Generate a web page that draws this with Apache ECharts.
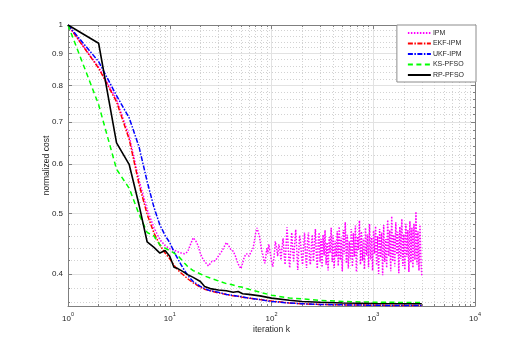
<!DOCTYPE html>
<html>
<head>
<meta charset="utf-8">
<title>normalized cost</title>
<script src="https://cdn.jsdelivr.net/npm/echarts@6/dist/echarts.min.js"></script>
<style>
  *{margin:0;padding:0;}
  body{background:#fff;}
  #main{width:526px;height:346px;}
</style>
</head>
<body>
<div id="main"></div>
<script>
// iterations at which the smooth curves were read
var kGrid = [1,2,3,4,5,6,7,8,9,10,11,12,13,14,15,17,20,22,25,30,36,42,47,52,60,77,100,150,200,300,500,1000,2000,3000];

var ekfIpm = [1,0.853,0.754,0.656,0.556,0.498,0.465,0.445,0.432,0.423,0.413,0.406,0.401,0.397,0.393,0.387,0.381,0.378,0.376,0.373,0.371,0.369,0.3685,0.367,0.366,0.364,0.362,0.3595,0.3585,0.3575,0.357,0.3565,0.356,0.356];
var ukfIpm = [1,0.874,0.771,0.71,0.638,0.562,0.511,0.479,0.461,0.449,0.434,0.423,0.413,0.405,0.398,0.389,0.382,0.379,0.376,0.374,0.371,0.3695,0.3685,0.3675,0.366,0.364,0.3615,0.3595,0.3585,0.3575,0.357,0.3565,0.356,0.356];
var ksPfso  = [1,0.746,0.588,0.548,0.498,0.466,0.46,0.445,0.44,0.436,0.432,0.428,0.422,0.416,0.411,0.405,0.4,0.397,0.394,0.39,0.386,0.384,0.382,0.381,0.378,0.374,0.37,0.366,0.365,0.363,0.3615,0.3605,0.3602,0.36];
var rpPfso  = [1,0.935,0.648,0.598,0.515,0.45,0.441,0.432,0.436,0.427,0.41,0.408,0.405,0.402,0.399,0.395,0.389,0.382,0.379,0.377,0.376,0.374,0.375,0.372,0.371,0.369,0.366,0.363,0.3615,0.3605,0.3595,0.3588,0.3585,0.3585];

// IPM is noisy, read at its own iterations
var ipmK = [1,2,3,4,5,6,7,8,9,10,11,12,13,14,15,16,17,18,19,20,21,22,23,24,25,26,28,30,32,34,36,38,40,42,44,46,48,50,52,54,57,60,63,66,68,70,72,74,76,78,80,82,84,86,88,90,92,94,97,100,103,106,109,112,115,118,121,124,127,130,133,136,139,142,145,148,151,155,158,162,165,169,173,177,181,185,189,193,198,202,207,211,216,221,226,231,236,241,247,252,258,264,270,276,282,288,294,
  300,307,314,321,329,336,344,352,360,369,377,386,395,404,413,423,433,443,453,463,474,485,496,508,519,531,544,556,569,582,596,609,624,638,653,668,683,699,715,732,749,766,784,802,820,839,859,878,899,919,941,962,985,1007,1031,1054,1079,1104,1129,1155,1182,1209,1237,1266,1295,1325,1355,1387,1419,1451,1485,1519,1554,1590,1627,1665,1703,1742,1783,1824,1866,1909,1953,1998,2044,2092,2140,2189,2240,2292,2344,2399,2454,2511,2569,2628,2689,2751,2814,2879,2946,3000];
var ipmV = [1,0.856,0.76,0.664,0.564,0.507,0.474,0.454,0.444,0.439,0.437,0.434,0.432,0.431,0.434,0.446,0.457,0.452,0.444,0.431,0.424,0.419,0.416,0.412,0.415,0.419,0.42,0.427,0.433,0.441,0.449,0.444,0.437,0.435,0.428,0.419,0.412,0.408,0.416,0.426,0.431,0.427,0.434,0.44,0.452,0.466,0.474,0.477,0.46,0.448,0.436,0.43,0.421,0.416,0.427,0.44,0.431,0.446,0.433,0.419,0.411,0.426,0.451,0.441,0.427,0.446,0.437,0.421,0.441,0.456,0.431,0.414,0.442,0.475,0.451,0.424,0.409,0.441,0.466,0.436,0.419,0.447,0.471,0.439,0.406,0.432,0.461,0.449,0.424,0.414,0.442,0.466,0.431,0.409,0.452,0.466,0.424,0.414,0.446,0.462,0.419,0.441,0.472,0.429,0.408,0.451,0.466,
  0.418,0.455,0.41,0.462,0.428,0.47,0.414,0.449,0.405,0.458,0.432,0.474,0.418,0.461,0.409,0.452,0.426,0.468,0.412,0.476,0.421,0.457,0.404,0.47,0.43,0.484,0.416,0.462,0.408,0.451,0.423,0.472,0.411,0.465,0.426,0.478,0.403,0.459,0.437,0.487,0.414,0.468,0.42,0.455,0.407,0.474,0.428,0.463,0.41,0.481,0.422,0.457,0.405,0.469,0.431,0.477,0.413,0.46,0.4,0.472,0.425,0.466,0.398,0.479,0.418,0.455,0.409,0.488,0.427,0.47,0.404,0.495,0.419,0.462,0.411,0.484,0.43,0.467,0.401,0.476,0.423,0.49,0.412,0.463,0.406,0.481,0.426,0.47,0.403,0.486,0.417,0.474,0.409,0.481,0.421,0.503,0.414,0.468,0.405,0.479,0.42,0.397];

var xMajor = [1,10,100,1000,10000];
var xMinor = [2,3,4,5,6,7,8,9,20,30,40,50,60,70,80,90,200,300,400,500,600,700,800,900,2000,3000,4000,5000,6000,7000,8000,9000];
var yMajor = [0.4,0.5,0.6,0.7,0.8,0.9,1];
var yMinor = [0.36,0.38,0.42,0.44,0.46,0.48,0.52,0.54,0.56,0.58,0.62,0.64,0.66,0.68,0.72,0.74,0.76,0.78,0.82,0.84,0.86,0.88,0.92,0.94,0.96,0.98];
var yMin = 0.3555, yMax = 1;

function pairs(ks, vs) {
  return ks.map(function (k, i) { return [k, vs[i]]; });
}

var axisGray = '#7f7f7f';
var txt = '#262626';
var font = '"Liberation Sans", Arial, sans-serif';

function xAx(pos, ticks, len, line, label, split) {
  return {
    type: 'log', logBase: 10, min: 1, max: 10000, position: pos,
    axisLine: { show: line, onZero: false, lineStyle: { color: axisGray, width: 1 } },
    axisTick: { show: true, inside: true, length: len, customValues: ticks, lineStyle: { color: axisGray } },
    axisLabel: { show: label, customValues: ticks, margin: 5, color: txt, fontFamily: font,
      formatter: function (v) { return '{b|10}{s|' + Math.round(Math.log10(v)) + '}'; },
      rich: { b: { fontSize: 8, fontFamily: font, color: txt, verticalAlign: 'bottom', lineHeight: 12 },
              s: { fontSize: 5.5, fontFamily: font, color: txt, verticalAlign: 'top', lineHeight: 12, padding: [0, 0, 4, 0] } } },
    splitLine: split
  };
}
function yAx(pos, ticks, len, line, label, split) {
  return {
    type: 'log', logBase: 10, min: yMin, max: yMax, position: pos,
    axisLine: { show: line, onZero: false, lineStyle: { color: axisGray, width: 1 } },
    axisTick: { show: true, inside: true, length: len, customValues: ticks, lineStyle: { color: axisGray } },
    axisLabel: { show: label, customValues: ticks, margin: 5, color: txt, fontSize: 8, fontFamily: font,
      formatter: function (v) { return String(+v.toFixed(2)); } },
    splitLine: split
  };
}

var majorSplit = { show: true, lineStyle: { color: '#e2e2e2', width: 1, type: 'solid' } };
var minorSplit = { show: true, lineStyle: { color: '#d2d2d2', width: 1, type: [1, 2] } };
var noSplit = { show: false };

var xs = [
  xAx('bottom', xMajor, 4, true, true, majorSplit),
  xAx('bottom', xMinor, 2, false, false, minorSplit),
  xAx('top', xMajor, 4, true, false, noSplit),
  xAx('top', xMinor, 2, false, false, noSplit)
];
xs[0].name = 'iteration k';
xs[0].nameLocation = 'middle';
xs[0].nameGap = 19;
xs[0].nameMoveOverlap = false;
xs[0].nameTextStyle = { fontSize: 8.5, color: txt, fontFamily: font };

var ys = [
  yAx('left', yMajor, 4, true, true, majorSplit),
  yAx('left', yMinor, 2, false, false, minorSplit),
  yAx('right', yMajor, 4, true, false, noSplit),
  yAx('right', yMinor, 2, false, false, noSplit)
];
ys[0].name = 'normalized cost';
ys[0].nameLocation = 'middle';
ys[0].nameGap = 17;
ys[0].nameMoveOverlap = false;
ys[0].nameTextStyle = { fontSize: 8.5, color: txt, fontFamily: font };

function line(name, data, color, type, width) {
  return {
    name: name, type: 'line', data: data, xAxisIndex: 0, yAxisIndex: 0,
    symbol: 'none', silent: true, animation: false,
    lineStyle: { color: color, width: width, type: type },
    itemStyle: { color: color }
  };
}

var myChart = echarts.init(document.getElementById('main'));
var option = {
  animation: false,
  backgroundColor: '#fff',
  grid: { left: 68, top: 25, width: 407, height: 281, outerBoundsMode: 'none' },
  legend: {
    orient: 'vertical', right: 50, top: 25,
    padding: [4.5, 12, 3.5, 10], itemGap: 3.5, itemWidth: 23, itemHeight: 7,
    backgroundColor: '#fff', borderColor: '#8c8c8c', borderWidth: 1, borderRadius: 0,
    itemStyle: { opacity: 0 },
    textStyle: { fontSize: 7, color: txt, fontFamily: font, padding: [0, 0, 0, -3] },
    data: ['IPM', 'EKF-IPM', 'UKF-IPM', 'KS-PFSO', 'RP-PFSO']
  },
  xAxis: xs,
  yAxis: ys,
  series: [
    line('IPM', pairs(ipmK, ipmV), '#ff00ff', [1.5, 1.5], 1.5),
    line('EKF-IPM', pairs(kGrid, ekfIpm), '#ff0000', [5, 1.5, 1.5, 1.5], 1.5),
    line('UKF-IPM', pairs(kGrid, ukfIpm), '#0000ff', [5, 1.5, 1.5, 1.5], 1.5),
    line('KS-PFSO', pairs(kGrid, ksPfso), '#00ff00', [5, 3.5], 1.5),
    line('RP-PFSO', pairs(kGrid, rpPfso), '#000000', 'solid', 1.6)
  ]
};
myChart.setOption(option);
</script>
</body>
</html>
